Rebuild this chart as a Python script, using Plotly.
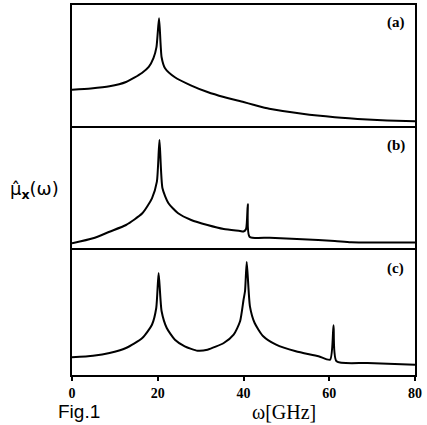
import plotly.graph_objects as go

# ---- data (arbitrary units) ----
omega_a = [0, 4.4, 8.75, 12.6, 16.3, 17.9, 19.0, 19.7, 20.3, 20.9, 21.7, 24.0, 27.7,
           31.6, 35.4, 40.0, 42.3, 46.0, 53.7, 61.3, 68.9, 73.5, 80]
mu_a = [38.2, 39.4, 41.5, 45.8, 54.8, 60.8, 69.5, 80.5, 109.2, 70.5, 59.5, 50.5, 42.5,
        35.8, 30.8, 25.8, 23.2, 19.2, 14.2, 10.8, 8.5, 7.5, 6.8]

omega_b = [0, 4.9, 8.75, 12.6, 16.4, 18.65, 19.8, 20.4, 21.1, 22.5, 24.75, 27.8,
           31.6, 35.4, 39.2, 40.0, 40.6, 41.0, 41.4, 46.1, 53.7, 61.3, 65.1, 80]
mu_b = [6.7, 11.7, 18.3, 25.0, 36.7, 51.7, 68.3, 110.0, 61.7, 46.7, 36.7, 30.0,
        25.0, 21.0, 19.0, 18.5, 21.0, 45.7, 13.3, 12.3, 10.7, 9.0, 7.7, 7.5]

omega_c = [0, 4.9, 8.75, 12.6, 16.4, 18.65, 19.65, 20.2, 20.9, 22.1, 24.0, 26.3,
           29.3, 31.6, 35.4, 37.7, 39.2, 40.0, 40.36, 40.75, 41.5, 42.6, 44.6,
           47.6, 52.2, 57.5, 60.2, 61.0, 61.7, 68.9, 80]
mu_c = [17.7, 19.3, 22.0, 27.0, 37.0, 50.3, 67.0, 102.0, 63.7, 47.0, 35.3, 28.7,
        24.3, 25.3, 32.0, 40.3, 53.7, 75.0, 84.0, 113.0, 68.7, 52.0, 38.7,
        30.3, 23.7, 18.7, 15.3, 49.7, 13.7, 12.0, 10.3]

panel_labels = ["(a)", "(b)", "(c)"]
tick_vals = [0, 20, 40, 60, 80]
tick_text = ["0", "20", "40", "60", "80"]

# ---- figure ----
W, H = 427, 425
fig = go.Figure()

line = dict(color="black", width=2, shape="spline", smoothing=0.6)
fig.add_trace(go.Scatter(x=omega_a, y=mu_a, mode="lines", line=line, xaxis="x", yaxis="y"))
fig.add_trace(go.Scatter(x=omega_b, y=mu_b, mode="lines", line=line, xaxis="x2", yaxis="y2"))
fig.add_trace(go.Scatter(x=omega_c, y=mu_c, mode="lines", line=line, xaxis="x3", yaxis="y3"))

c_top = 125 / 370
b_top = 247 / 370

LW = 1.6
common_x = dict(range=[0, 80], showline=True, linecolor="black",
                linewidth=LW, showgrid=False, zeroline=False)
common_y = dict(showline=True, mirror=True, linecolor="black", linewidth=LW,
                showgrid=False, zeroline=False, showticklabels=False, ticks="")

fig.update_layout(
    width=W, height=H,
    margin=dict(l=72, r=5, t=5, b=50),
    paper_bgcolor="white", plot_bgcolor="white",
    showlegend=False,
    xaxis=dict(**common_x, anchor="y", side="top", mirror=False,
               showticklabels=False, ticks=""),
    yaxis=dict(**common_y, domain=[b_top, 1], range=[0, 122.5]),
    xaxis2=dict(**common_x, anchor="y2", side="top", mirror=False, matches="x",
                showticklabels=False, ticks=""),
    yaxis2=dict(**common_y, domain=[c_top, b_top], range=[0, 122]),
    xaxis3=dict(**common_x, anchor="y3", mirror=True, matches="x",
                tickvals=tick_vals, ticktext=tick_text,
                ticks="outside", ticklen=4, tickwidth=1.5, tickcolor="black",
                tickfont=dict(family="Liberation Serif", size=14, color="black", weight="bold")),
    yaxis3=dict(**common_y, domain=[0, c_top], range=[0, 125]),
)

label_font = dict(family="Liberation Serif", size=15, color="black", weight="bold")
for lab, xr, yr, yy in zip(panel_labels, ["x", "x2", "x3"], ["y", "y2", "y3"], [105.5, 105, 107]):
    fig.add_annotation(x=75.5, y=yy, xref=xr, yref=yr, text=lab, showarrow=False,
                       font=label_font, xanchor="center", yanchor="middle")

fig.add_annotation(x=(79 - 72) / 350, y=(375 - 411.7) / 370, xref="paper", yref="paper",
                   text="Fig.1", showarrow=False, xanchor="center", yanchor="middle",
                   font=dict(family="Liberation Sans", size=19, color="black"))
fig.add_annotation(x=(288.3 - 72) / 350, y=(375 - 411.7) / 370, xref="paper", yref="paper",
                   text="ω[GHz]", showarrow=False, xanchor="center", yanchor="middle",
                   font=dict(family="Liberation Serif", size=20, color="black"))
fig.add_annotation(x=(34 - 72) / 350, y=(375 - 190) / 370, xref="paper", yref="paper",
                   text="μ\u0302<sub><b>x</b></sub>(ω)", showarrow=False, xanchor="center",
                   yanchor="middle",
                   font=dict(family="DejaVu Sans", size=18, color="black"))

fig.write_html("out.html", config={"displayModeBar": False},
               post_script="document.body.style.margin='0';document.body.style.overflow='hidden';")
